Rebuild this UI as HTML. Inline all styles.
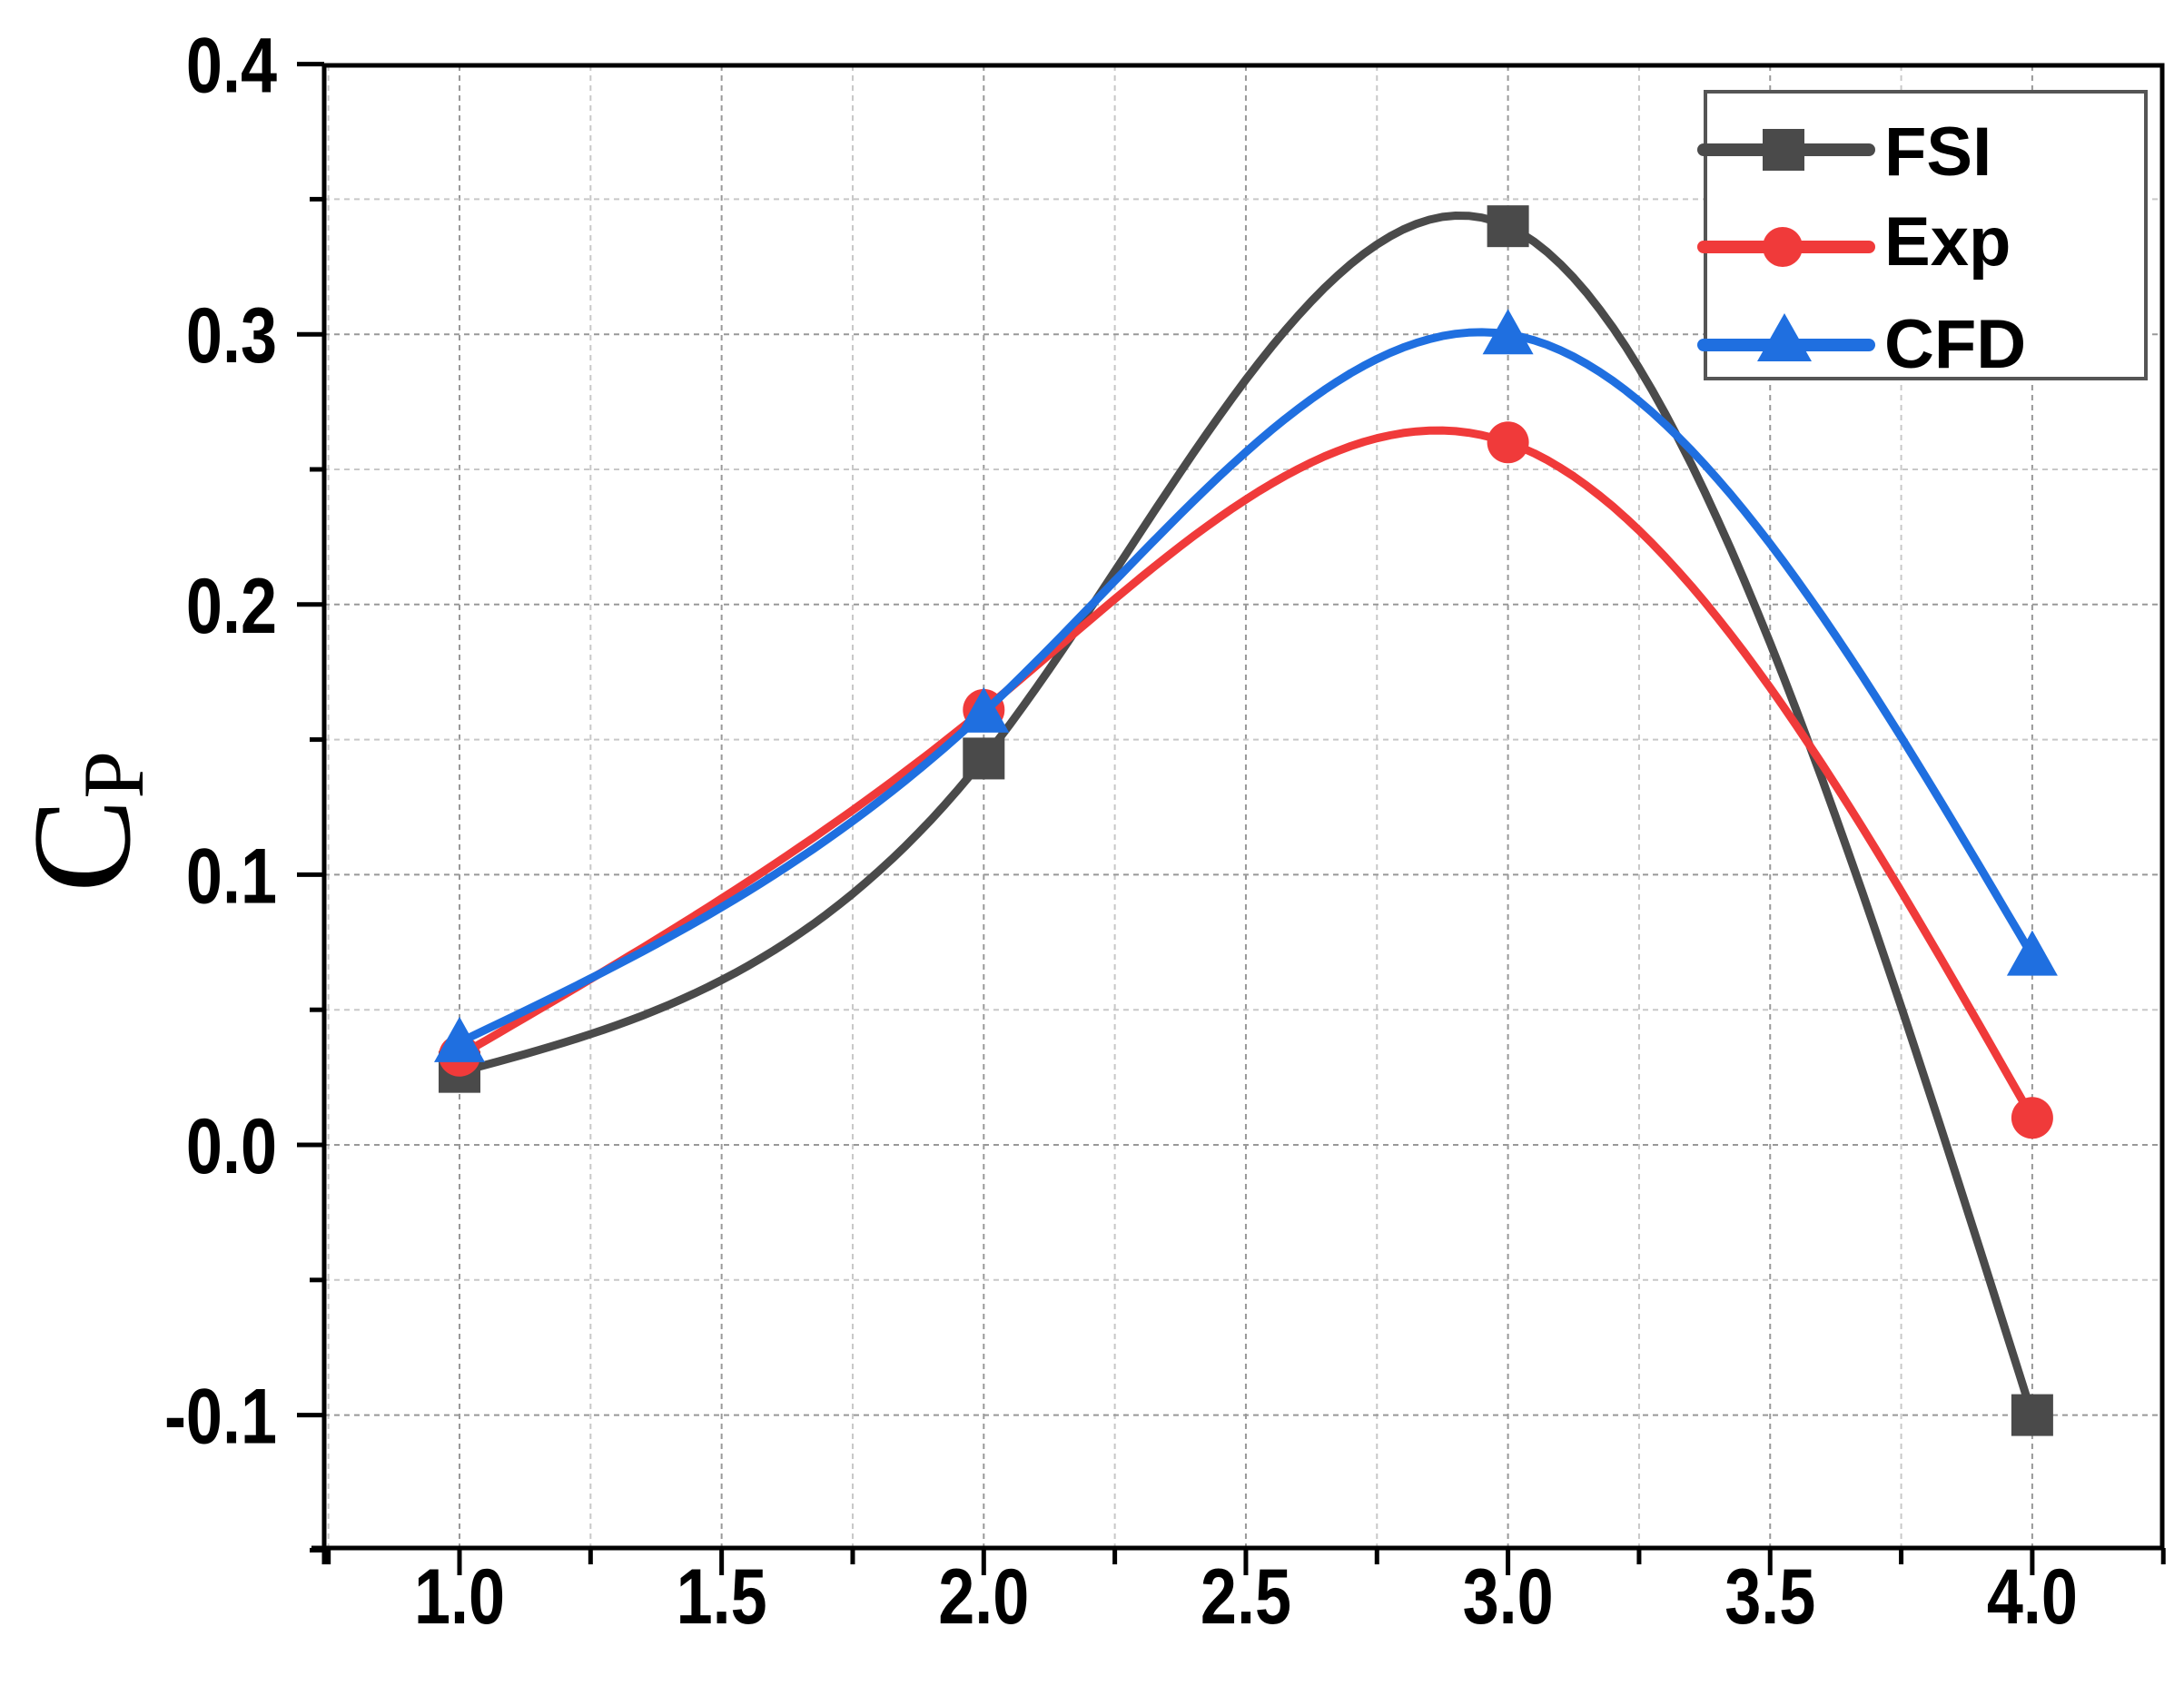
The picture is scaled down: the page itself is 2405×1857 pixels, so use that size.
<!DOCTYPE html>
<html><head><meta charset="utf-8"><style>
html,body{margin:0;padding:0;background:#fff}
svg{display:block}
text{font-family:"Liberation Sans",Arial,sans-serif;font-weight:bold}
</style></head><body>
<svg id="s" width="2405" height="1857" viewBox="0 0 2405 1857" xmlns="http://www.w3.org/2000/svg">
<rect width="2405" height="1857" fill="#fff"/>
<g id="grid"></g>
<g id="series"></g>
<g id="axes"></g>
<g id="legend">
<rect x="1878" y="101" width="485" height="316" fill="#fff" stroke="#555" stroke-width="4"/>
<line x1="1876" y1="165" x2="2058" y2="165" stroke="#4a4a4a" stroke-width="14" stroke-linecap="round"/>
<rect x="1941" y="142" width="46" height="46" fill="#4a4a4a"/>
<text x="2075" y="193" font-size="76" fill="#000">FSI</text>
<line x1="1876" y1="272" x2="2058" y2="272" stroke="#f03a3a" stroke-width="14" stroke-linecap="round"/>
<circle cx="1963" cy="272" r="22" fill="#f03a3a"/>
<text x="2075" y="292" font-size="76" fill="#000">Exp</text>
<line x1="1876" y1="380" x2="2058" y2="380" stroke="#1f6fe0" stroke-width="14" stroke-linecap="round"/>
<polygon points="1965,345 1995,398 1935,398" fill="#1f6fe0"/>
<text x="2075" y="405" font-size="76" fill="#000">CFD</text>
</g>
<text transform="translate(142,905) rotate(-90)" text-anchor="middle" font-size="155" style="font-family:'Liberation Serif',serif;font-weight:normal" fill="#000">C<tspan font-size="95" dy="15">P</tspan></text>
</svg>
<script>
var L=357,R=2381,T=72,B=1705;
function X(x){return 506+(x-1)*577.3}
function Y(v){return 1261-v*2976}
var NS="http://www.w3.org/2000/svg";
function el(p,t,a){var e=document.createElementNS(NS,t);for(var k in a)e.setAttribute(k,a[k]);p.appendChild(e);return e}
var g=document.getElementById('grid');
for(var x=0.75;x<=4.4;x+=0.25){var px=X(x);if(px<=L+2||px>=R-2)continue;var maj=Math.abs(x*2-Math.round(x*2))<1e-6;
el(g,'line',{x1:px,y1:T,x2:px,y2:B,stroke:maj?'#999':'#c8c8c8','stroke-width':2,'stroke-dasharray':'6,5'})}
for(var i=-3;i<=8;i++){var v=i*0.05,py=Y(v);if(py<=T+2||py>=B-2)continue;var maj=i%2==0;
el(g,'line',{x1:L,y1:py,x2:R,y2:py,stroke:maj?'#999':'#c8c8c8','stroke-width':2,'stroke-dasharray':'6,5'})}
var a=document.getElementById('axes');
el(a,'rect',{x:L,y:T,width:R-L,height:B-T,fill:'none',stroke:'#000','stroke-width':5});
el(a,'line',{x1:L-14,y1:B,x2:L,y2:B,stroke:'#000','stroke-width':5});
for(var x=0.75;x<=4.4;x+=0.25){var px=X(x);if(px<L-2||px>R+2)continue;var maj=Math.abs(x*2-Math.round(x*2))<1e-6;
el(a,'line',{x1:px,y1:B,x2:px,y2:B+(maj?30:18),stroke:'#000','stroke-width':5});
if(maj&&x>=1){var t=el(a,'text',{transform:'translate('+px+',1788) scale(0.9,1.08)','font-size':80,'text-anchor':'middle',fill:'#000'});t.textContent=x.toFixed(1)}}
el(a,'line',{x1:L,y1:B,x2:L,y2:B+18,stroke:'#000','stroke-width':5});
for(var i=-3;i<=8;i++){var v=i*0.05,py=Y(v);var maj=i%2==0;
el(a,'line',{x1:L-(maj?30:16),y1:py,x2:L,y2:py,stroke:'#000','stroke-width':5});
if(maj){var t=el(a,'text',{transform:'translate(305,'+(py+31)+') scale(0.9,1.08)','font-size':80,'text-anchor':'end',fill:'#000'});t.textContent=(v<0?'-':'')+Math.abs(v).toFixed(1)}}
function spline(y){var d1=6*(y[0]-2*y[1]+y[2]),d2=6*(y[1]-2*y[2]+y[3]);
var M=[0,(4*d1-d2)/15,(4*d2-d1)/15,0];var pts=[];
for(var s=0;s<3;s++){for(var k=0;k<=40;k++){var t=k/40;var A=1-t,Bt=t;
var v=A*y[s]+Bt*y[s+1]+((A*A*A-A)*M[s]+(Bt*Bt*Bt-Bt)*M[s+1])/6;pts.push([X(1+s+t),Y(v)])}}
return 'M'+pts.map(function(p){return p[0].toFixed(1)+','+p[1].toFixed(1)}).join(' L')}
var S=document.getElementById('series');
var data=[{y:[0.027,0.143,0.34,-0.1],c:'#4a4a4a',m:'s'},{y:[0.033,0.161,0.26,0.01],c:'#f03a3a',m:'c'},{y:[0.038,0.16,0.30,0.07],c:'#1f6fe0',m:'t'}];
data.forEach(function(d){el(S,'path',{d:spline(d.y),fill:'none',stroke:d.c,'stroke-width':9,'stroke-linejoin':'round'});
d.y.forEach(function(v,i){var px=X(1+i),py=Y(v);
if(d.m=='s')el(S,'rect',{x:px-23,y:py-23,width:46,height:46,fill:d.c});
else if(d.m=='c')el(S,'circle',{cx:px,cy:py,r:23,fill:d.c});
else el(S,'polygon',{points:(px)+','+(py-28)+' '+(px+28)+','+(py+22)+' '+(px-28)+','+(py+22),fill:d.c});})});
</script>
</body></html>
